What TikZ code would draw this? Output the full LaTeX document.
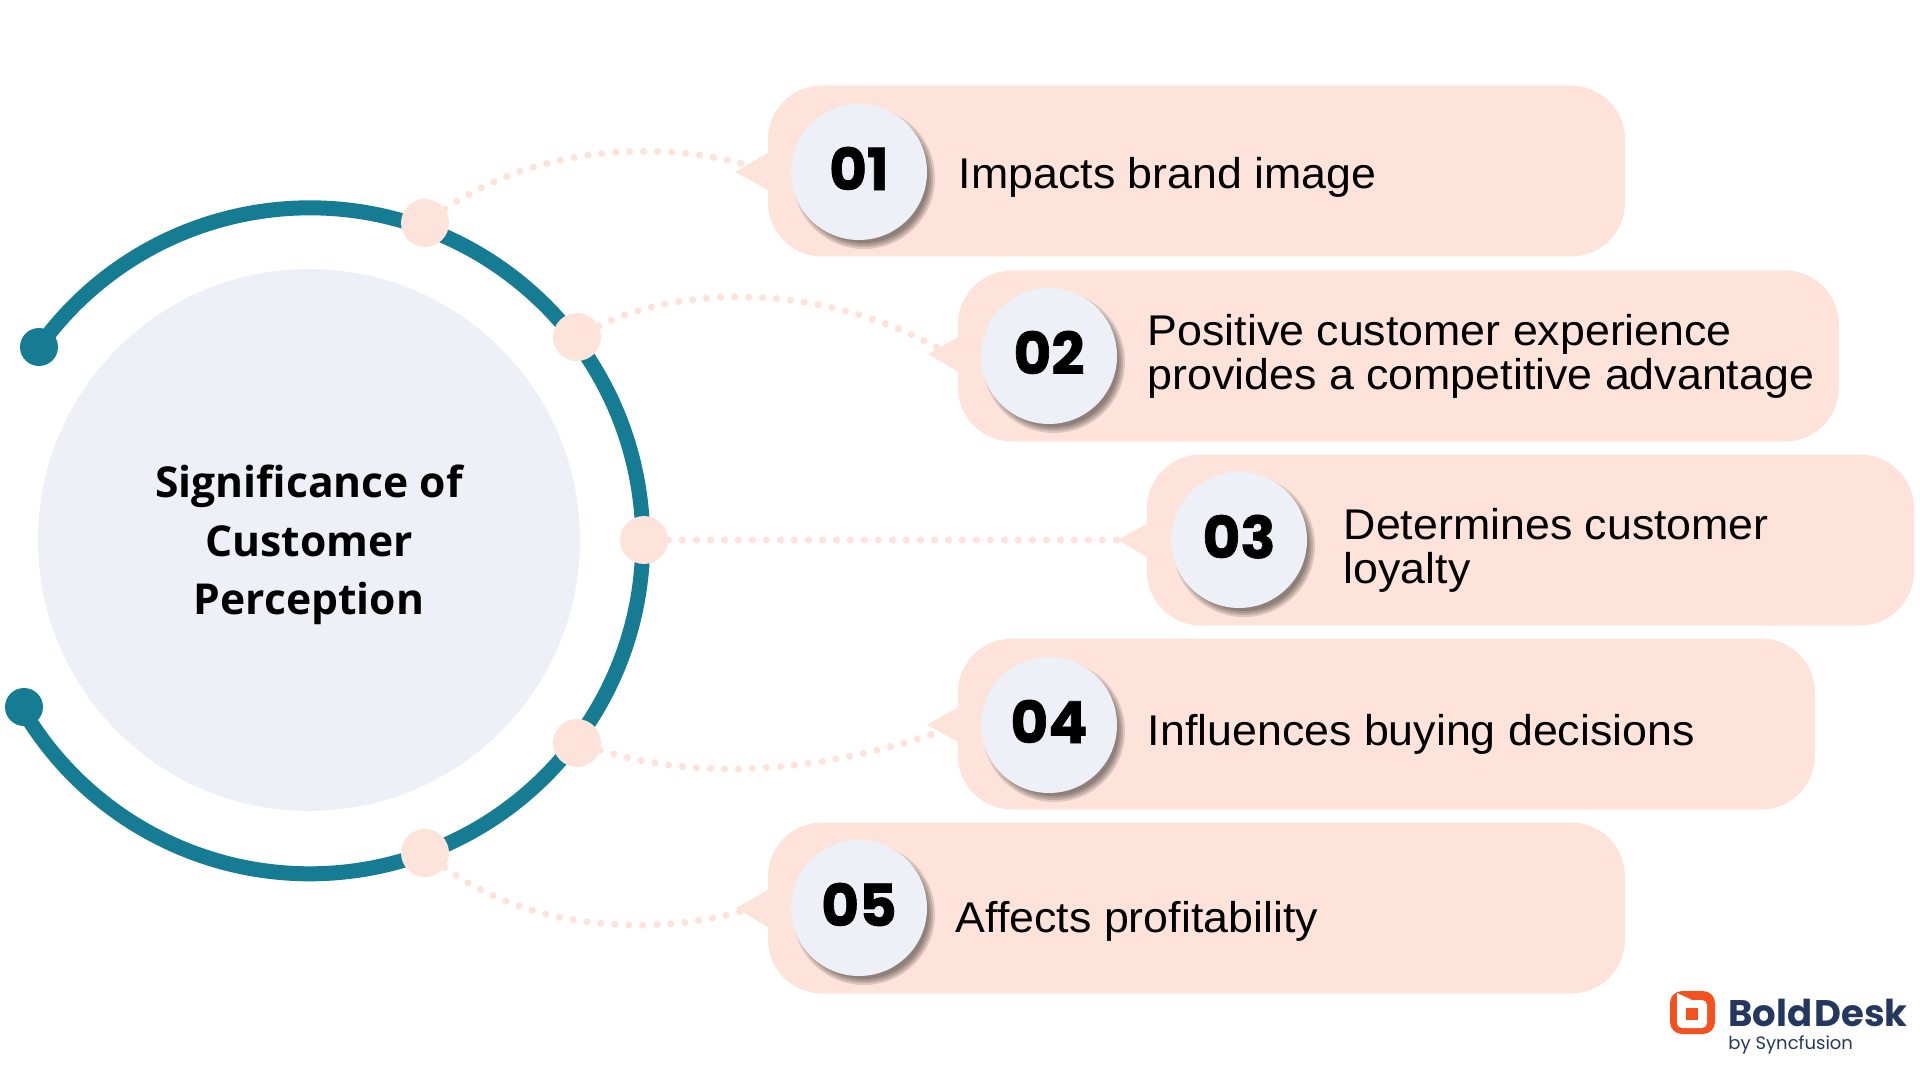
\documentclass[tikz,border=0pt]{standalone}
\usepackage{fontspec}
\setmainfont[FakeStretch=1.04]{Liberation Sans}
\newfontfamily\headfont{Open Sans}
\newfontfamily\numfont[BoldFeatures={FakeBold=1.2}]{Poppins}
\newfontfamily\logofont{Poppins}
\usetikzlibrary{positioning}
\definecolor{ringteal}{HTML}{167C94}
\definecolor{peach}{HTML}{FDE3D9}
\definecolor{paleblue}{HTML}{EDF0F7}
\definecolor{logonavy}{HTML}{24385F}
\definecolor{logoorange}{HTML}{F4511E}

\begin{document}
\begin{tikzpicture}[x=0.5pt,y=-0.5pt]
	\tikzstyle{hubstyle}=[circle, fill=paleblue, minimum size=271pt, inner sep=0pt]
	\tikzstyle{ring}=[draw=ringteal, line width=7.5pt]
	\tikzstyle{enddot}=[circle, fill=ringteal, minimum size=19pt, inner sep=0pt]
	\tikzstyle{joint}=[circle, fill=peach, minimum size=24pt, inner sep=0pt]
	\tikzstyle{pill}=[rectangle, fill=peach, rounded corners=27pt, minimum height=85.5pt, inner sep=0pt]
	\tikzstyle{badge}=[circle, fill=paleblue, minimum size=68pt, inner sep=0pt, text depth=3.5pt, font=\numfont\bfseries\fontsize{29}{29}\selectfont]
	\tikzstyle{shade}=[fill=black, opacity=0.13]
	\tikzstyle{dots}=[draw=peach, line width=3.6pt, line cap=round, dash pattern=on 0pt off 7pt]
	\tikzstyle{caption}=[anchor=west, inner sep=0pt, align=left, font=\fontsize{21.5}{22}\selectfont]
	\useasboundingbox (0,0) rectangle (1920,1080);

	\node[hubstyle] (hub) at (309,540) {};
	\node[align=center, font=\headfont\bfseries\fontsize{21.3}{29.3}\selectfont] (title) at (309,545) {Significance of\\Customer\\Perception};

	\node[enddot] (top) at (39,347) {};
	\node[enddot] (bot) at (24,707) {};
	\draw[ring] (top.center) arc[start angle=215.6, end angle=509.7, radius=333];

	\node[joint] (j1) at (425,223) {};
	\node[joint] (j2) at (577,337) {};
	\node[joint] (j3) at (644,540) {};
	\node[joint] (j4) at (577,743) {};
	\node[joint] (j5) at (425,853) {};

	\node[pill, minimum width=428.5pt] (p1) at (1196.5,171) {};
	\node[pill, minimum width=440.5pt] (p2) at (1398.5,356) {};
	\node[pill, minimum width=383.5pt] (p3) at (1530.5,540) {};
	\node[pill, minimum width=428.5pt] (p4) at (1386.5,724) {};
	\node[pill, minimum width=428.5pt] (p5) at (1196.5,908) {};

	\coordinate (t1) at (735,172);
	\coordinate (t2) at (928,354);
	\coordinate (t3) at (1118,540);
	\coordinate (t4) at (927,725);
	\coordinate (t5) at (736,908);

	\fill[peach] (t1) -- (768,153) -- (768,190) -- cycle;
	\fill[peach] (t2) -- (960,336) -- (960,373) -- cycle;
	\fill[peach] (t3) -- (1150,522) -- (1150,559) -- cycle;
	\fill[peach] (t4) -- (960,706) -- (960,743) -- cycle;
	\fill[peach] (t5) -- (768,890) -- (768,927) -- cycle;

	\coordinate (e1) at (770,172);
	\coordinate (e2) at (955,358);
	\coordinate (e4) at (950,728);
	\coordinate (e5) at (760,905);

	\draw[dots] (j1) .. controls (545,140) and (680,140) .. (e1);
	\draw[dots] (j2) .. controls (685,283) and (835,283) .. (e2);
	\draw[dots] (j3) -- (t3);
	\draw[dots] (j4) .. controls (690,778) and (810,778) .. (e4);
	\draw[dots] (j5) .. controls (540,938) and (680,935) .. (e5);

	\foreach \cx/\cy in {859/172, 1049/356, 1239/540, 1049/725, 859/908}
		\foreach \rr in {65,67,69,71}
			\fill[shade] (\cx+5,\cy+6) circle[radius=\rr];

	\node[badge] (b1) at (859,172) {01};
	\node[badge] (b2) at (1049,356) {02};
	\node[badge] (b3) at (1239,540) {03};
	\node[badge] (b4) at (1049,725) {04};
	\node[badge] (b5) at (859,908) {05};

	\node[caption, right=15.5pt of b1, yshift=-2.5pt] (c1) {Impacts brand image};
	\node[caption, right=15pt of b2] (c2) {Positive customer experience\\provides a competitive advantage};
	\node[caption, right=18pt of b3, yshift=-5pt] (c3) {Determines customer\\loyalty};
	\node[caption, right=15pt of b4, yshift=-4.5pt] (c4) {Influences buying decisions};
	\node[caption, right=14pt of b5, yshift=-6.5pt] (c5) {Affects profitability};

	\node[fill=logoorange, rounded corners=6pt, minimum width=22.5pt, minimum height=21.5pt, inner sep=0pt] (mark) at (1692.5,1012.5) {};
	\node[fill=white, rounded corners=2.5pt, minimum width=15pt, minimum height=14pt, inner sep=0pt] (markin) at (1692,1014) {};
	\fill[white] (1677,993) -- (1692,1000) -- (1677,1006) -- cycle;
	\node[fill=logoorange, minimum width=6pt, minimum height=6pt, inner sep=0pt] (markdot) at (1692,1013.5) {};
	\node[anchor=base west, inner sep=0pt, text=logonavy, font=\logofont\bfseries\fontsize{18.5}{18.5}\selectfont] (brand) at (1728,1026) {Bold\kern1pt Desk};
	\node[anchor=base west, inner sep=0pt, text=logonavy, font=\logofont\fontsize{9}{10}\selectfont] (sub) at (1728,1049) {by Syncfusion};
\end{tikzpicture}
\end{document}
